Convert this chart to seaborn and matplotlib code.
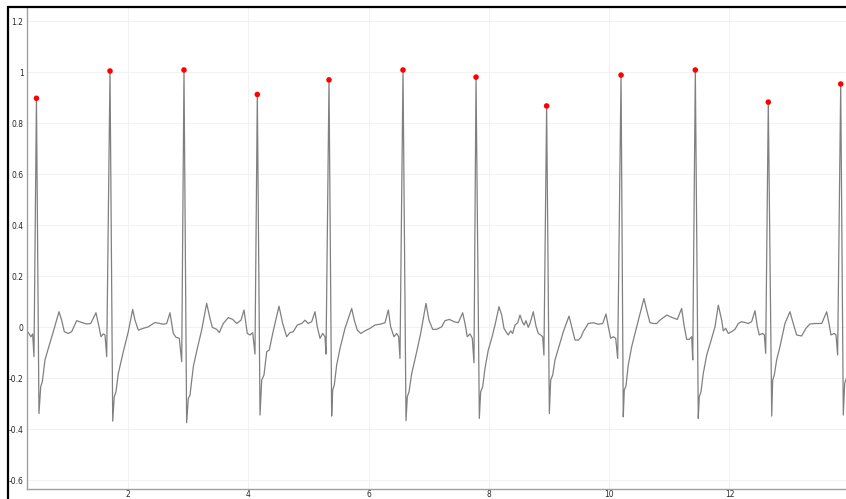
import numpy as np
import pandas as pd
import matplotlib.pyplot as plt
from matplotlib.patches import Rectangle
import seaborn as sns

sns.set_theme(style="white")
plt.rcParams['font.family'] = ['DejaVu Sans']

# ECG trace (seconds, mV-ish)
ecg_time = [
    0.304, 0.343, 0.387, 0.415, 0.437, 0.478,
    0.520, 0.549, 0.576, 0.620, 0.675, 0.758, 0.853, 0.897, 0.941, 1.008, 1.064, 1.147, 1.230, 1.313, 1.380, 1.468, 1.518, 1.551, 1.589, 1.618, 1.646, 1.701,
    1.746, 1.772, 1.800, 1.839, 1.922, 2.005, 2.078, 2.116, 2.172, 2.254, 2.338, 2.449, 2.587, 2.643, 2.698, 2.753, 2.798, 2.853, 2.893, 2.931,
    2.975, 3.003, 3.031, 3.086, 3.152, 3.225, 3.308, 3.363, 3.402, 3.475, 3.518, 3.584, 3.668, 3.741, 3.807, 3.879, 3.929, 3.983, 4.028, 4.073, 4.111, 4.150,
    4.195, 4.223, 4.261, 4.306, 4.349, 4.406, 4.510, 4.572, 4.638, 4.693, 4.748, 4.815, 4.888, 4.943, 4.997, 5.054, 5.109, 5.147, 5.192, 5.237, 5.275, 5.292, 5.342,
    5.386, 5.403, 5.430, 5.469, 5.525, 5.608, 5.719, 5.762, 5.812, 5.869, 5.940, 6.023, 6.106, 6.189, 6.273, 6.328, 6.367, 6.422, 6.467, 6.500, 6.522, 6.572,
    6.622, 6.644, 6.672, 6.717, 6.800, 6.866, 6.954, 7.004, 7.065, 7.132, 7.215, 7.270, 7.342, 7.420, 7.492, 7.564, 7.603, 7.641, 7.686, 7.724, 7.752, 7.786,
    7.841, 7.863, 7.897, 7.935, 7.990, 8.047, 8.102, 8.168, 8.213, 8.251, 8.284, 8.322, 8.361, 8.395, 8.434, 8.479, 8.517, 8.555, 8.588, 8.616, 8.655, 8.683, 8.738, 8.783, 8.821, 8.860, 8.894, 8.915, 8.960,
    9.005, 9.027, 9.061, 9.099, 9.155, 9.238, 9.332, 9.377, 9.432, 9.487, 9.530, 9.569, 9.652, 9.736, 9.819, 9.892, 9.947, 9.986, 10.025, 10.068, 10.108, 10.141, 10.197,
    10.234, 10.251, 10.279, 10.317, 10.374, 10.457, 10.578, 10.623, 10.678, 10.733, 10.790, 10.844, 10.956, 11.039, 11.132, 11.205, 11.244, 11.288, 11.332, 11.372, 11.389, 11.432,
    11.481, 11.498, 11.526, 11.564, 11.621, 11.687, 11.759, 11.814, 11.870, 11.897, 11.937, 11.980, 12.036, 12.091, 12.146, 12.202, 12.257, 12.312, 12.368, 12.424, 12.463, 12.496, 12.546, 12.579, 12.602, 12.645,
    12.702, 12.718, 12.745, 12.784, 12.839, 12.922, 13.005, 13.060, 13.116, 13.199, 13.271, 13.337, 13.420, 13.533, 13.616, 13.654, 13.687, 13.742, 13.771, 13.798, 13.849,
    13.892, 13.915, 13.945,
]
ecg_value = [
    -0.012, -0.022, -0.038, -0.027, -0.116, 0.897,
    -0.339, -0.234, -0.214, -0.129, -0.084, -0.018, 0.060, 0.027, -0.018, -0.025, -0.018, 0.025, 0.018, 0.012, 0.014, 0.056, 0.001, -0.038, -0.027, -0.031, -0.116, 1.004,
    -0.369, -0.273, -0.254, -0.182, -0.097, -0.018, 0.069, 0.027, -0.012, -0.005, 0.001, 0.018, 0.011, 0.014, 0.056, -0.025, -0.040, -0.044, -0.136, 1.008,
    -0.375, -0.280, -0.267, -0.155, -0.084, -0.012, 0.093, 0.034, -0.001, -0.009, -0.022, 0.014, 0.037, 0.030, 0.014, 0.027, 0.067, -0.025, -0.031, -0.022, -0.106, 0.912,
    -0.345, -0.208, -0.188, -0.097, -0.090, -0.025, 0.082, 0.014, -0.038, -0.022, -0.018, 0.008, 0.014, 0.027, 0.014, 0.021, 0.060, 0.001, -0.044, -0.025, -0.038, -0.106, 0.969,
    -0.349, -0.247, -0.227, -0.149, -0.084, -0.005, 0.073, 0.027, -0.012, -0.025, -0.015, -0.005, 0.008, 0.011, 0.017, 0.067, 0.001, -0.038, -0.025, -0.038, -0.123, 1.008,
    -0.367, -0.273, -0.254, -0.182, -0.097, -0.025, 0.093, 0.027, -0.009, -0.009, 0.001, 0.025, 0.030, 0.021, 0.017, 0.056, 0.014, -0.038, -0.027, -0.044, -0.140, 0.980,
    -0.358, -0.254, -0.234, -0.162, -0.090, -0.044, 0.008, 0.080, 0.047, -0.005, -0.018, -0.031, -0.015, -0.025, 0.008, 0.017, 0.047, 0.021, 0.008, 0.025, -0.001, 0.014, 0.060, 0.004, -0.025, -0.031, -0.038, -0.110, 0.867,
    -0.339, -0.208, -0.188, -0.129, -0.084, -0.018, 0.043, 0.001, -0.051, -0.051, -0.040, -0.018, 0.014, 0.017, 0.011, 0.014, 0.051, 0.001, -0.044, -0.038, -0.044, -0.123, 0.988,
    -0.352, -0.247, -0.231, -0.149, -0.077, 0.001, 0.112, 0.067, 0.017, 0.014, 0.014, 0.027, 0.047, 0.038, 0.030, 0.073, 0.008, -0.048, -0.048, -0.038, -0.129, 1.008,
    -0.358, -0.273, -0.254, -0.182, -0.110, -0.058, 0.001, 0.086, 0.027, -0.015, -0.005, -0.025, -0.018, -0.009, 0.014, 0.021, 0.018, 0.014, 0.021, 0.064, 0.001, -0.031, -0.025, -0.031, -0.103, 0.882,
    -0.349, -0.208, -0.188, -0.129, -0.077, 0.014, 0.060, 0.014, -0.031, -0.035, -0.005, 0.012, 0.014, 0.014, 0.060, 0.014, -0.031, -0.025, -0.031, -0.110, 0.953,
    -0.345, -0.220, -0.200,
]

# detected R peaks (red dots)
peak_time = [0.478, 1.701, 2.931, 4.150, 5.342, 6.572, 7.786, 8.960, 10.197, 11.432, 12.645, 13.849]
peak_value = [0.897, 1.004, 1.008, 0.912, 0.969, 1.008, 0.980, 0.867, 0.988, 1.008, 0.882, 0.953]

x_ticks = [2, 4, 6, 8, 10, 12]
y_ticks = [-0.6, -0.4, -0.2, 0, 0.2, 0.4, 0.6, 0.8, 1, 1.2]
y_tick_labels = ['-0.6', '-0.4', '-0.2', '0', '0.2', '0.4', '0.6', '0.8', '1', '1.2']

W, H = 846, 499
fig = plt.figure(figsize=(W / 100, H / 100), dpi=100)
ax = fig.add_axes([27 / W, 10 / H, (W - 27) / W, 481 / H])

ecg = pd.DataFrame({'t': ecg_time, 'v': ecg_value})
peaks = pd.DataFrame({'t': peak_time, 'v': peak_value})

sns.lineplot(data=ecg, x='t', y='v', estimator=None, sort=False,
             color='#808080', linewidth=0.9, ax=ax)
sns.scatterplot(data=peaks, x='t', y='v', color='#ff0000', s=16,
                edgecolor='none', zorder=5, ax=ax)

ax.set_xlim(0.321, 13.937)
ax.set_ylim(-0.635, 1.251)
ax.set_xticks(x_ticks)
ax.set_xticklabels([str(t) for t in x_ticks])
ax.set_yticks(y_ticks)
ax.set_yticklabels(y_tick_labels)
ax.set_xlabel('')
ax.set_ylabel('')

# matlab-ish look
ax.grid(True, color='#f0f0f0', linewidth=0.6)
ax.tick_params(direction='in', length=5, width=0.7, color='#8a8a8a',
               labelsize=5.5, labelcolor='#262626', pad=2.5)
ax.tick_params(axis='x', pad=0.8)
for side in ['top', 'right']:
    ax.spines[side].set_visible(False)
for side in ['left', 'bottom']:
    ax.spines[side].set_color('#a0a0a0')
    ax.spines[side].set_linewidth(1.0)

# black screenshot frame
fig.add_artist(Rectangle((7.5 / W, -0.1), 1.2, 1.1 - 6.5 / H,
                         transform=fig.transFigure, fill=False,
                         edgecolor='black', linewidth=1.6))

fig.savefig('out.png', dpi=100)
